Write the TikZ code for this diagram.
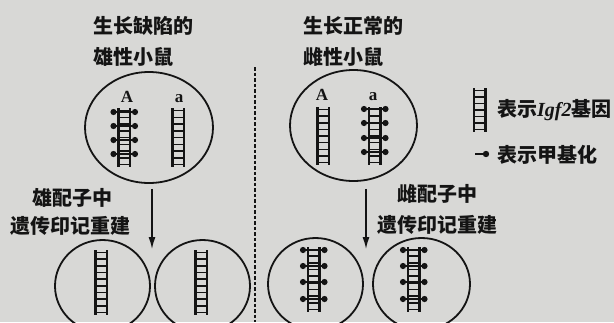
\documentclass[tikz,border=0pt]{standalone}
\usepackage{fontspec}
\setmainfont{Liberation Serif}
\newfontfamily\cjk{Noto Sans CJK SC}
\usepackage{tikz}
\usetikzlibrary{arrows.meta}
\usetikzlibrary{shapes.geometric}
\usetikzlibrary{positioning}

\definecolor{paper}{RGB}{216,216,214}
\definecolor{ink}{RGB}{20,20,20}

\tikzset{
  cell/.style={draw=ink,line width=1.8pt,ellipse,inner sep=0pt},
  rail/.style={ink,line width=2.5pt},
  rung/.style={ink,line width=1.5pt},
  conn/.style={ink,line width=1.4pt,-{Latex[length=12pt,width=7pt]}},
  cjktext/.style={font=\cjk\bfseries\fontsize{20}{24}\selectfont,text=ink,inner sep=0pt,anchor=west},
  allele/.style={font=\bfseries\fontsize{17}{20}\selectfont,text=ink,inner sep=0pt,anchor=base}
}

% gene: left rail x, top y, bottom y, number of rungs
\newcommand{\gene}[4]{%
  \draw[rail] (#1,#2) -- (#1,#3) (#1+11.5,#2) -- (#1+11.5,#3);
  \foreach \k in {1,...,#4}
    \draw[rung] (#1,{#2+2.5+(\k-1)*(#3-#2-5)/(#4-1)}) -- ++(11.5,0);
}
% methyl groups on both rails: left rail x, list of y
\newcommand{\methyl}[2]{%
  \foreach \y in {#2} {
    \draw[rail] (#1-5,\y) -- (#1+16.5,\y);
    \fill[ink] (#1-5,\y) circle (3.1pt) (#1+16.5,\y) circle (3.1pt);
  }
}

\begin{document}
\begin{tikzpicture}[x=1pt,y=-1pt]
\useasboundingbox (0,0) rectangle (614,322);
\fill[paper] (0,0) rectangle (614,322);

% parents
\node[cjktext] (maletitle) at (93,26) {生长缺陷的};
\node[cjktext] (malesex) at (93,57) {雄性小鼠};
\node[cjktext] (femtitle) at (303,26) {生长正常的};
\node[cjktext] (femsex) at (303,57) {雌性小鼠};

\node[cell,minimum width=128pt,minimum height=111pt] (male) at (149,127.5) {};
\node[cell,minimum width=127pt,minimum height=111pt] (female) at (353.5,125.5) {};

\node[allele] (mA) at (127,102) {A};
\node[allele] (ma) at (179,102) {a};
\node[allele] (fA) at (322,100) {A};
\node[allele] (fa) at (373,100) {a};

\gene{118.5}{108}{167}{9}
\methyl{118.5}{112,126,140,154}
\gene{172.5}{108}{167}{9}
\gene{317.5}{107}{165}{9}
\gene{369}{107}{165}{9}
\methyl{369}{109,123,138,152}

% divider
\draw[ink,line width=1.8pt,dash pattern=on 3.5pt off 2pt] (255,67) -- (255,322);

% gametes
\node[cjktext] (mnote1) at (32,198) {雄配子中};
\node[cjktext] (mnote2) at (10,226) {遗传印记重建};
\node[cjktext] (fnote1) at (397,194) {雌配子中};
\node[cjktext] (fnote2) at (377,225) {遗传印记重建};

\coordinate (mtip) at (152,249);
\coordinate (ftip) at (366,249);
\draw[conn] ([xshift=3pt,yshift=-5pt]male.south) -- (mtip);
\draw[conn] ([xshift=12.5pt,yshift=-7pt]female.south) -- (ftip);

\node[cell,minimum width=95pt,minimum height=92pt] (mgam1) at (102.5,286) {};
\node[cell,minimum width=95pt,minimum height=92pt] (mgam2) at (202.5,286) {};
\node[cell,minimum width=95pt,minimum height=92pt] (fgam1) at (315.5,284) {};
\node[cell,minimum width=97pt,minimum height=92pt] (fgam2) at (421.5,284) {};

\gene{95.5}{250}{315}{10}
\gene{195.5}{250}{315}{10}
\gene{308}{247}{312}{10}
\methyl{308}{250,266,282,299}
\gene{408}{247}{312}{10}
\methyl{408}{250,266,282,299}

% key
\gene{474}{88}{132}{7}
\node[cjktext] (keygene) at (497,110) {表示{\rmfamily\bfseries\itshape Igf2}基因};
\draw[rail,line width=2.8pt] (475,154) -- (486,154);
\fill[ink] (486,154) circle (3.2pt);
\node[cjktext] (keymethyl) at (497,155) {表示甲基化};
\end{tikzpicture}
\end{document}
